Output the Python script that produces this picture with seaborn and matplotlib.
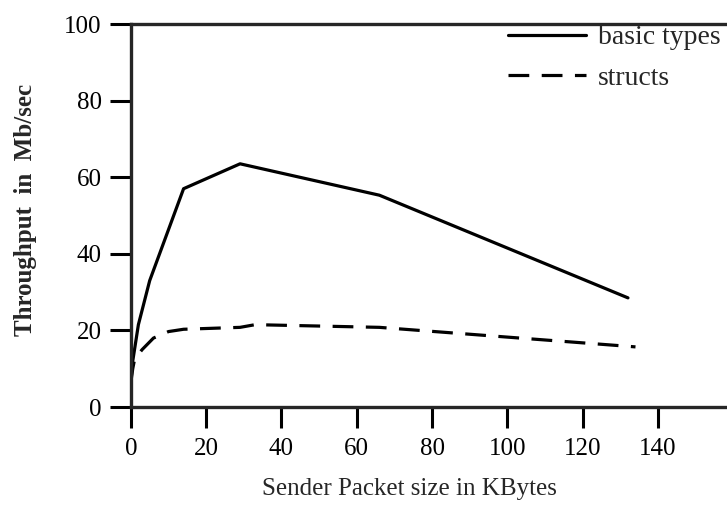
import pandas as pd
import matplotlib.pyplot as plt
import seaborn as sns

# throughput vs sender packet size
basic_x = [0, 0.5, 2, 5, 8, 14, 29, 66, 132]
basic_y = [6.5, 12, 21.5, 33, 41, 57, 63.5, 55.3, 28.5]
structs_x = [0, 0.5, 1, 3, 6, 10, 14, 29, 33, 66, 134]
structs_y = [6.5, 10, 12.5, 15, 18, 19.7, 20.3, 20.8, 21.5, 20.8, 15.7]
series_names = ["basic types", "structs"]

df = pd.concat([
    pd.DataFrame({"size": basic_x, "tp": basic_y, "series": series_names[0]}),
    pd.DataFrame({"size": structs_x, "tp": structs_y, "series": series_names[1]}),
])

sns.set_style("ticks")
plt.rcParams["font.family"] = ["Liberation Serif", "DejaVu Serif"]

fig = plt.figure(figsize=(7.27, 5.13), dpi=100)
ax = fig.add_axes([0.180, 0.2066, 0.82, 0.7466])

sns.lineplot(data=df, x="size", y="tp", style="series", sort=False,
             dashes={"basic types": "", "structs": (6.5, 3.9)},
             color="black", linewidth=2.3, ax=ax, estimator=None)

ax.set_xlim(0, 158.3)
ax.set_ylim(0, 100)
ax.set_xticks(range(0, 141, 20))
ax.set_yticks(range(0, 101, 20))
ax.spines["right"].set_visible(False)
for s in ["left", "bottom", "top"]:
    ax.spines[s].set_linewidth(2.4)
ax.tick_params(axis="both", direction="out", length=15, width=2.2,
               labelsize=18, colors="black")
ax.tick_params(axis="x", pad=7)
ax.tick_params(axis="y", pad=6)

ax.set_xlabel("Sender Packet size in KBytes", fontsize=18)
ax.xaxis.set_label_coords(0.468, -0.185)
ax.set_ylabel("Throughput  in  Mb/sec", fontsize=18, fontweight="bold")
ax.yaxis.set_label_coords(-0.157, 0.515)

handles, labels = ax.get_legend_handles_labels()
ax.legend(handles, labels, loc="upper right", frameon=False, fontsize=20,
          handlelength=2.8, handletextpad=0.45, labelspacing=0.55,
          borderaxespad=0, bbox_to_anchor=(1.008, 1.027))

fig.savefig("out.png", dpi=100)
